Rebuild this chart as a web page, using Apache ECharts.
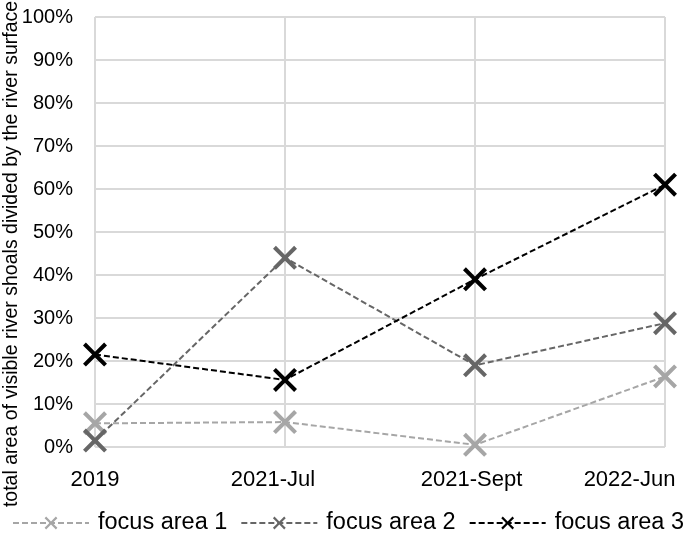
<!DOCTYPE html>
<html>
<head>
<meta charset="utf-8">
<script src="https://cdn.jsdelivr.net/npm/echarts@6/dist/echarts.min.js"></script>
<style>html,body{margin:0;padding:0;background:#fff;}#chart{width:685px;height:534px;}</style>
</head>
<body>
<div id="chart"></div>
<script>
const categories = ['2019', '2021-Jul', '2021-Sept', '2022-Jun'];
const focusArea1 = [5.5, 5.8, 0.5, 16.4];
const focusArea2 = [1.5, 44.0, 19.0, 28.8];
const focusArea3 = [21.5, 15.6, 39.0, 61.0];
const seriesNames = ['focus area 1', 'focus area 2', 'focus area 3'];
const yTitle = 'total area of visible river shoals divided by the river surface';

const X = 'path://M0,0.12 L0.12,0 L0.5,0.38 L0.88,0 L1,0.12 L0.62,0.5 L1,0.88 L0.88,1 L0.5,0.62 L0.12,1 L0,0.88 L0.38,0.5 Z';
const colors = ['#a6a6a6', '#666666', '#000000'];
const font = 'Liberation Sans, Arial, sans-serif';
// trailing invisible spacer widths to nudge x labels like the original layout
const labelShift = [0, 24, 7, 71];

function mk(name, data, color) {
  return {
    name: name, type: 'line', data: data,
    symbol: X, symbolSize: 24,
    itemStyle: {color: color},
    lineStyle: {color: color, width: 2, type: [6, 3]},
    z: 3
  };
}

const rich = {};
labelShift.forEach(function (w, i) { rich['s' + i] = {width: w}; });

const chart = echarts.init(document.getElementById('chart'), null, {renderer: 'canvas'});
chart.setOption({
  animation: false,
  backgroundColor: '#fff',
  textStyle: {fontFamily: font},
  grid: {left: 95, right: 20, top: 17, bottom: 87, containLabel: false, outerBoundsMode: 'none'},
  xAxis: {
    type: 'category', data: categories, boundaryGap: false,
    axisLine: {show: false}, axisTick: {show: false},
    axisLabel: {
      color: '#000', fontSize: 22, margin: 22, fontFamily: font, interval: 0, hideOverlap: false,
      formatter: function (v, i) { return labelShift[i] ? v + '{s' + i + '|}' : v; },
      rich: rich
    },
    splitLine: {show: true, lineStyle: {color: '#d9d9d9', width: 2}}
  },
  yAxis: {
    type: 'value', min: 0, max: 100, interval: 10,
    axisLine: {show: false}, axisTick: {show: false},
    axisLabel: {color: '#000', fontSize: 20, margin: 22, formatter: '{value}%', fontFamily: font},
    splitLine: {show: true, lineStyle: {color: '#d9d9d9', width: 2}}
  },
  legend: {
    top: 511, left: 12, width: 700, padding: 0, itemWidth: 76, itemHeight: 16, itemGap: 13,
    textStyle: {fontSize: 23.5, color: '#000', fontFamily: font, padding: [0, 0, 0, 4]},
    data: seriesNames
  },
  graphic: [{
    type: 'text', x: 12, y: 254, rotation: Math.PI / 2,
    style: {text: yTitle, fontSize: 19.5, fontFamily: font, fill: '#000', align: 'center', verticalAlign: 'middle'}
  }],
  series: [
    mk(seriesNames[0], focusArea1, colors[0]),
    mk(seriesNames[1], focusArea2, colors[1]),
    mk(seriesNames[2], focusArea3, colors[2])
  ]
});
</script>
</body>
</html>
